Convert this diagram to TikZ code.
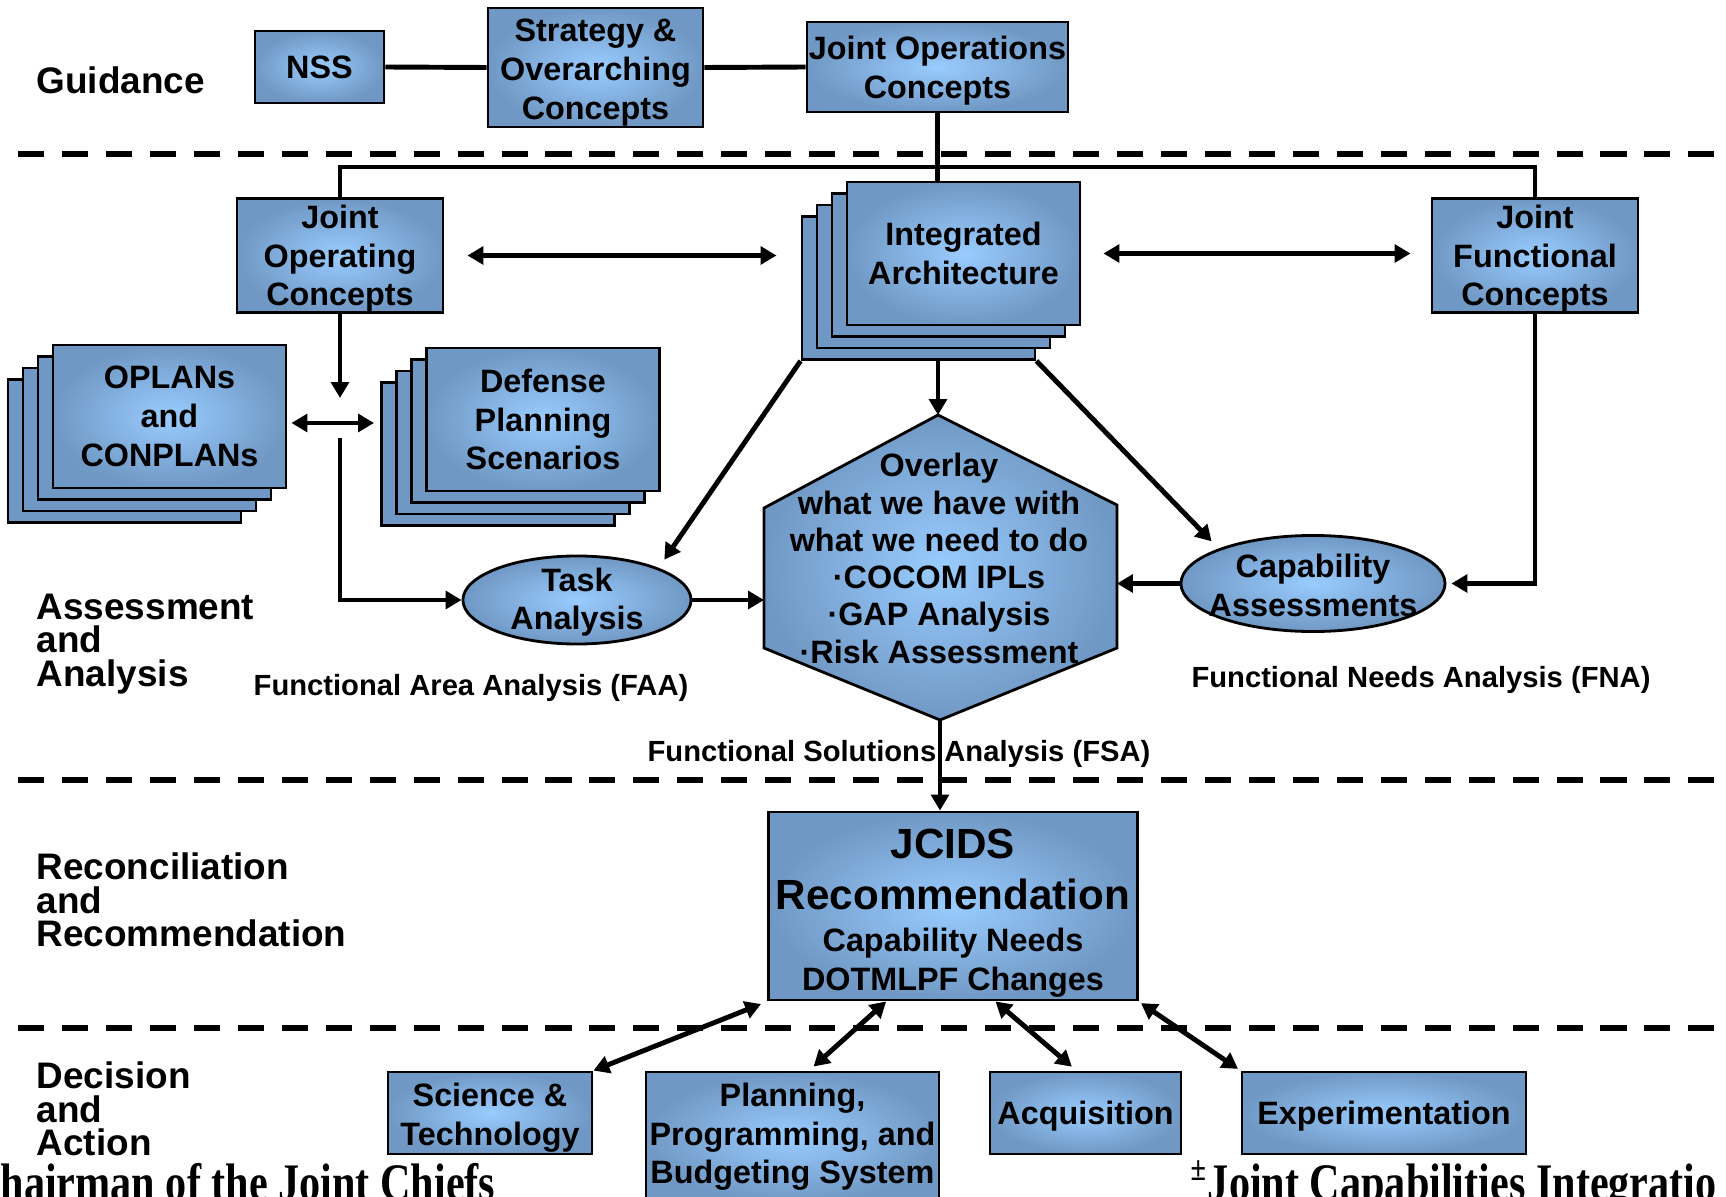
\documentclass[tikz,border=0pt]{standalone}
\usepackage{graphicx}
\usepackage{fontspec}
\setmainfont{Liberation Sans}
\newfontfamily\timesbf{Liberation Serif}
\usetikzlibrary{arrows.meta,shapes.geometric}
\definecolor{boxblue}{RGB}{112,152,196}
\definecolor{glowblue}{RGB}{153,204,255}
\newcommand{\boxfont}{\fontsize{9.2}{11}\selectfont\bfseries}
\newcommand{\hexfont}{\fontsize{9.2}{10.6}\selectfont\bfseries}
\newcommand{\bandfont}{\fontsize{10.5}{9.6}\selectfont\bfseries}
\newcommand{\notefont}{\fontsize{8.3}{10}\selectfont\bfseries}
\newcommand{\bigfont}{\fontsize{12}{14}\selectfont\bfseries}
\newcommand{\padtop}[1]{\rule{0pt}{#1}}
\tikzstyle{blok}=[draw,line width=0.8pt,inner color=glowblue,outer color=boxblue,align=center,font=\boxfont,inner sep=0pt]
\tikzstyle{layer}=[draw,line width=0.8pt,fill=boxblue,inner sep=0pt]
\tikzstyle{stacksize}=[minimum width=2.33cm,minimum height=1.43cm]
\tikzstyle{oval}=[blok,ellipse]
\tikzstyle{ovaltext}=[align=center,font=\boxfont,inner sep=0pt]
\tikzstyle{band}=[anchor=west,align=left,font=\bandfont,inner sep=0pt]
\tikzstyle{note}=[font=\notefont,inner sep=0pt]
\tikzstyle{conn}=[line width=1.4pt]
\tikzstyle{sepline}=[line width=1.7pt,dash pattern=on 7.4pt off 5.1pt]
\tikzstyle{foot}=[anchor=base west,inner sep=0pt,font=\timesbf\bfseries\fontsize{12}{14}\selectfont]

\begin{document}
\begin{tikzpicture}[x=0.01cm,y=-0.01cm,>={Triangle[length=4.5pt,width=5pt]}]
\useasboundingbox (0,0) rectangle (1726,1197);

% phase separators
\draw[sepline] (18,154) -- (1726,154);
\draw[sepline] (18,780) -- (1726,780);
\draw[sepline] (18,1028) -- (1726,1028);

% phase labels
\node[band] (guid) at (36,80) {Guidance};
\node[band] (assess) at (36,644) {Assessment\\and\\Analysis};
\node[band] (recon) at (36,900) {Reconciliation\\and\\Recommendation};
\node[band] (decide) at (36,1109) {Decision\\and\\Action};

% guidance row
\node[blok,minimum width=1.29cm,minimum height=0.72cm] (NSS) at (319.5,67) {NSS};
\node[blok,minimum width=2.15cm,minimum height=1.19cm] (SOC) at (595.5,67.5) {\padtop{9.2pt}Strategy \&\\Overarching\\Concepts};
\node[blok,minimum width=2.61cm,minimum height=0.9cm] (JOC) at (937.5,67) {\padtop{8.9pt}Joint Operations\\Concepts};

% stacked documents
\foreach \k in {3,2,1} {
  \node[layer,stacksize] (IA\k) at ({963.5-15*\k},{253.5+11.5*\k}) {};
  \node[layer,stacksize] (OP\k) at ({169.5-15*\k},{416.5+11.5*\k}) {};
  \node[layer,stacksize] (DPS\k) at ({543-15*\k},{419.5+11.5*\k}) {};
}
\node[blok,stacksize] (IA) at (963.5,253.5) {Integrated\\Architecture};
\node[blok,stacksize] (OP) at (169.5,416.5) {OPLANs\\and\\CONPLANs};
\node[blok,stacksize] (DPS) at (543,419.5) {Defense\\Planning\\Scenarios};

\node[blok,minimum width=2.06cm,minimum height=1.13cm] (JOpC) at (340,255.5) {\padtop{8.6pt}Joint\\Operating\\Concepts};
\node[blok,minimum width=2.06cm,minimum height=1.13cm] (JFC) at (1535,255.5) {\padtop{8.6pt}Joint\\Functional\\Concepts};

\node[oval,minimum width=2.28cm,minimum height=0.88cm] (TA) at (577,600) {};
\node[ovaltext] (TAtext) at (577,602) {Task\\Analysis};
\node[oval,minimum width=2.64cm,minimum height=0.96cm] (CA) at (1313,583.5) {};
\node[ovaltext] (CAtext) at (1313,585.5) {Capability\\Assessments};

% overlay hexagon
\coordinate (hexN) at (938,415);
\coordinate (hexNE) at (1117,505);
\coordinate (hexSE) at (1117,648);
\coordinate (hexS) at (940,720);
\coordinate (hexSW) at (764,648);
\coordinate (hexNW) at (764,508);
\path[draw,line width=0.8pt,inner color=glowblue,outer color=boxblue]
  (hexN) -- (hexNE) -- (hexSE) -- (hexS) -- (hexSW) -- (hexNW) -- cycle;
\node[align=center,font=\hexfont,inner sep=0pt] (ovl) at (939,558.5)
  {Overlay\\what we have with\\what we need to do\\·COCOM IPLs\\·GAP Analysis\\·Risk Assessment};

\node[note] (faa) at (471,688) {Functional Area Analysis (FAA)};
\node[note] (fna) at (1421,680) {Functional Needs Analysis (FNA)};
\node[note] (fsa) at (899,754) {Functional Solutions Analysis (FSA)};

% recommendation and action boxes
\node[blok,minimum width=3.68cm,minimum height=1.88cm] (JC) at (953,906)
  {{\bigfont\padtop{12.6pt}JCIDS}\\[3.5pt]{\bigfont Recommendation}\\[0.9pt]Capability Needs\\DOTMLPF Changes};
\node[blok,minimum width=2.04cm,minimum height=0.82cm] (ST) at (490,1113) {\padtop{9.5pt}Science \&\\Technology};
\node[blok,minimum width=2.93cm,minimum height=1.3cm] (PP) at (792.5,1137) {Planning,\\Programming, and\\Budgeting System};
\node[blok,minimum width=1.91cm,minimum height=0.82cm] (AQ) at (1085.5,1113) {\padtop{8.6pt}Acquisition};
\node[blok,minimum width=2.84cm,minimum height=0.82cm] (EX) at (1384,1113) {\padtop{8.6pt}Experimentation};

% connectors
\coordinate (bus) at (937.5,167);
\coordinate (jn1) at (340,398);
\coordinate (jn2) at (340,423);
\coordinate (jn3) at (340,438);
\draw[conn] (NSS.east) -- (SOC.west);
\draw[conn] (SOC.east) -- (JOC.west);
\draw[conn] (JOC.south) -- (JOC.south |- IA.north);
\draw[conn] (JOpC.north) |- (bus) -| (JFC.north);
\draw[conn,<->,shorten <=0.23cm,shorten >=0.24cm] (JOpC.east) -- (JOpC.east -| IA3.west);
\draw[conn,<->,shorten <=0.22cm,shorten >=0.2cm] (IA.east) -- (IA.east -| JFC.west);
\draw[conn,->] (JOpC.south) -- (jn1);
\draw[conn,<->,shorten <=0.04cm,shorten >=0.06cm] (OP.east |- jn2) -- (DPS3.west |- jn2);
\draw[conn,->] (jn3) |- (TA.west);
\draw[conn,->] (TA.east) -- (TA.east -| hexNW);
\draw[conn,->] (hexN |- IA3.south) -- (hexN);
\draw[conn,->,shorten >=0.1cm] (IA3.south west) -- (TA.north east);
\draw[conn,->,shorten >=0.1cm] (IA3.south east) -- (CA.north west);
\draw[conn,->] (CA.west) -- (CA.west -| hexNE);
\draw[conn,->,shorten >=0.05cm] (JFC.south) |- (CA.east);
\draw[conn,->] (hexS) -- (hexS |- JC.north);
\draw[conn,<->,shorten <=0.07cm] (JC.south west) -- (ST.north east);
\draw[conn,<->,shorten >=0.06cm] (JC.235) -- (PP.76);
\draw[conn,<->,shorten >=0.06cm] (JC.294) -- (AQ.102);
\draw[conn,<->,shorten <=0.03cm,shorten >=0.03cm] (JC.south east) -- (EX.north west);

% footer lines cut by the page
\node[foot] (foot1) at (0,1200) {\scalebox{1}[1.25]{hairman of the Joint Chiefs}};
\node[foot] (foot2) at (1190,1200) {\scalebox{1}[1.25]{\textsuperscript{±}Joint Capabilities Integratio}};
\end{tikzpicture}
\end{document}
